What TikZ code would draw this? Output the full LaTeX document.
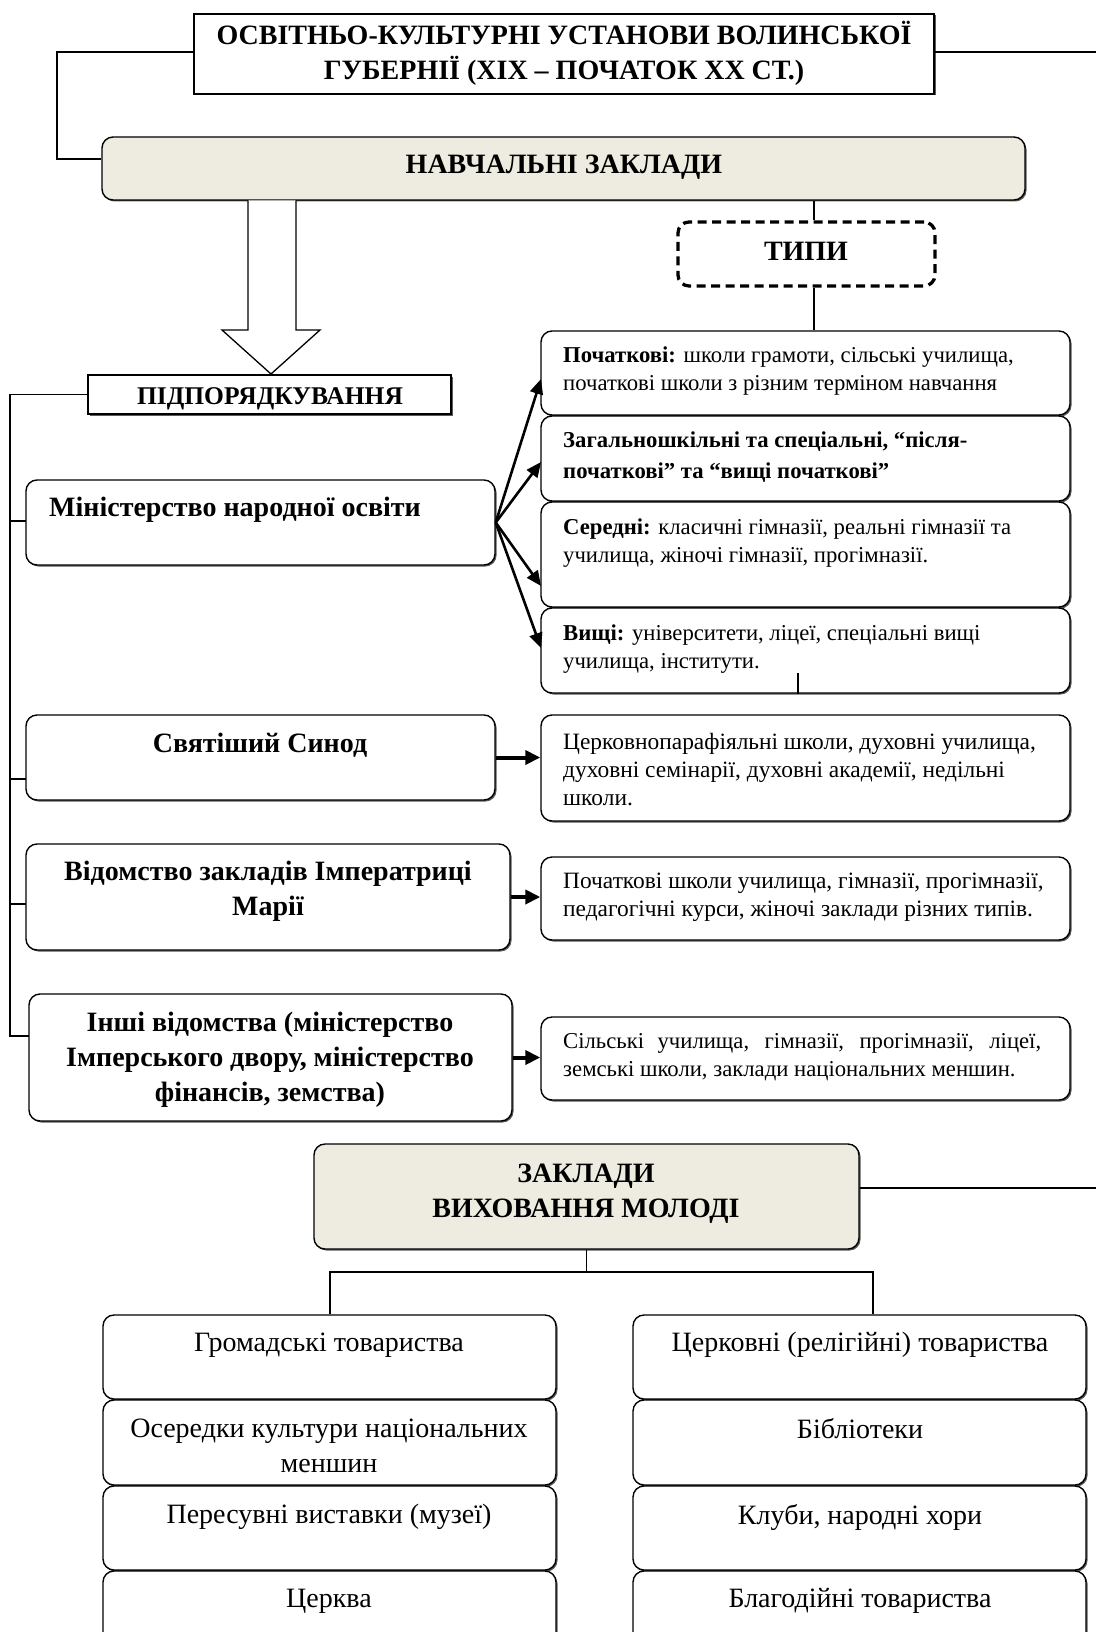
\documentclass[tikz,border=0pt]{standalone}
\usepackage{fontspec}
\setmainfont{Liberation Serif}
\usetikzlibrary{arrows.meta,shadows,calc}
\definecolor{beige}{HTML}{EEECE1}
\newcommand\hdfont{\fontsize{28}{35.5}\selectfont\bfseries}
\newcommand\pdfontx{\fontsize{25.5}{34}\selectfont\bfseries}
\newcommand\lbfont{\fontsize{28}{35}\selectfont\bfseries}
\newcommand\smfont{\fontsize{22.7}{28}\selectfont}
\newcommand\rsfont{\fontsize{23.4}{28}\selectfont}
\newcommand\btfont{\fontsize{28}{34.5}\selectfont}
\tikzset{
  shad/.style={drop shadow={shadow xshift=1.5pt, shadow yshift=-1.5pt, fill=black!65, opacity=1}},
  sq/.style={draw, line width=1.4pt, fill=white, shad, inner sep=0pt},
  bx/.style={draw, line width=1.4pt, rounded corners=11pt, fill=white, shad, inner sep=0pt},
  bg/.style={bx, fill=beige},
  dbox/.style={draw, line width=3.3pt, dash pattern=on 9pt off 5.5pt, rounded corners=11pt, fill=white, inner sep=0pt},
  txt/.style={inner sep=0pt, align=center},
  ltxt/.style={inner sep=0pt, align=left, anchor=west},
  conn/.style={line width=1.4pt},
  arr/.style={line width=2.6pt, -{Triangle[length=15pt,width=13pt]}},
  arrb/.style={line width=4pt, -{Triangle[length=15pt,width=14pt]}},
}
\begin{document}
\begin{tikzpicture}[x=1pt,y=-1pt]
\useasboundingbox (0,0) rectangle (1096,1632);
\fill[white] (0,0) rectangle (1096,1632);

% ---------- top part ----------
\node[sq, minimum width=740pt, minimum height=80pt] (title) at (564,54) {};
\node[txt, font=\hdfont] (ttitle) at (564,53.5) {ОСВІТНЬО-КУЛЬТУРНІ УСТАНОВИ ВОЛИНСЬКОЇ\\ГУБЕРНІЇ (XIX – ПОЧАТОК XX СТ.)};

\node[bg, minimum width=923pt, minimum height=63pt] (nav) at (563.5,168.5) {};
\node[txt, font=\hdfont] (tnav) at (564,167) {НАВЧАЛЬНІ ЗАКЛАДИ};

\node[dbox, minimum width=257pt, minimum height=64pt] (tipy) at (806.5,254) {};
\node[txt, font=\hdfont] (ttipy) at (806,251) {ТИПИ};

\node[sq, minimum width=363pt, minimum height=39pt] (pid) at (269.5,394.5) {};
\node[txt, font=\pdfontx] (tpid) at (270,399) {ПІДПОРЯДКУВАННЯ};

% left boxes
\node[bx, minimum width=469pt, minimum height=85pt] (min) at (260.5,522.5) {};
\node[ltxt, font=\lbfont] (tmin) at (49,510) {Міністерство народної освіти};

\node[bx, minimum width=469pt, minimum height=85pt] (syn) at (260.5,757.5) {};
\node[txt, font=\lbfont] (tsyn) at (260,745) {Святіший Синод};

\node[bx, minimum width=484pt, minimum height=106pt] (mar) at (268,897) {};
\node[txt, font=\lbfont] (tmar) at (268,891) {Відомство закладів Імператриці\\Марії};

\node[bx, minimum width=483pt, minimum height=127pt] (oth) at (270.5,1057.5) {};
\node[txt, font=\lbfont] (toth) at (270,1060) {Інші відомства (міністерство\\Імперського двору, міністерство\\фінансів, земства)};

% type boxes
\node[bx, minimum width=529pt, minimum height=84pt] (t1) at (805.5,373) {};
\node[ltxt, font=\smfont] (tt1) at (563,371) {\textbf{Початкові:} школи грамоти, сільські училища,\\початкові школи з різним терміном навчання};

\node[bx, minimum width=529pt, minimum height=85pt] (t2) at (805.5,458.5) {};
\node[ltxt, font=\fontsize{22.7}{31}\selectfont\bfseries] (tt2) at (563,457) {Загальношкільні та спеціальні, “після-\\початкові” та “вищі початкові”};

\node[bx, minimum width=529pt, minimum height=105pt] (t3) at (805.5,554.5) {};
\node[ltxt, font=\smfont] (tt3) at (563,543) {\textbf{Середні:} класичні гімназії, реальні гімназії та\\училища, жіночі гімназії, прогімназії.};

\node[bx, minimum width=529pt, minimum height=85pt] (t4) at (805.5,650.5) {};
\node[ltxt, font=\smfont] (tt4) at (563,649) {\textbf{Вищі:} університети, ліцеї, спеціальні вищі\\училища, інститути.};

% right boxes
\node[bx, minimum width=529pt, minimum height=106pt] (r1) at (805.5,768) {};
\node[ltxt, font=\rsfont] (tr1) at (563,770) {Церковнопарафіяльні школи, духовні училища,\\духовні семінарії, духовні академії, недільні\\школи.};

\node[bx, minimum width=529pt, minimum height=83pt] (r2) at (805.5,898.5) {};
\node[ltxt, font=\rsfont] (tr2) at (563,897.5) {Початкові школи училища, гімназії, прогімназії,\\педагогічні курси, жіночі заклади різних типів.};

\node[bx, minimum width=529pt, minimum height=83pt] (r3) at (805.5,1058.5) {};
\node[ltxt, font=\smfont] (tr3) at (563,1057) {\makebox[478pt][s]{Сільські училища, гімназії, прогімназії, ліцеї,}\\земські школи, заклади національних меншин.};

% ---------- connectors top ----------
\coordinate (tl) at (57,52);
\coordinate (nl) at (0,159);
\coordinate (tr) at (1096,52);
\draw[conn] (title.west |- tl) -- (tl) |- (nav.west |- nl);
\draw[conn] (title.east |- tl) -- (tr);

\coordinate (tx) at (814,0);
\draw[conn] (nav.south -| tx) -- (tipy.north -| tx);
\draw[conn] (tipy.south -| tx) -- (t1.north -| tx);

% hollow arrow
\draw[line width=1.3pt, fill=white] (248,200.5) -- (248,330) -- (222,330) -- (271,374) -- (320,330) -- (296,330) -- (296,200.5);

% left tree
\coordinate (L) at (10,0);
\coordinate (cb1) at (26,521);
\coordinate (cb2) at (26,779);
\coordinate (cb3) at (26,904);
\coordinate (cb4) at (29,1036);
\draw[conn] (pid.west) -| (L |- cb4) -- (cb4);
\draw[conn] (L |- cb1) -- (cb1);
\draw[conn] (L |- cb2) -- (cb2);
\draw[conn] (L |- cb3) -- (cb3);

% arrows from ministry
\coordinate (a1) at (541,379);
\coordinate (a2) at (541,462);
\coordinate (a3) at (541,586);
\coordinate (a4) at (541,648);
\draw[arr] (min.east) -- (a1);
\draw[arr] (min.east) -- (a2);
\draw[arr] (min.east) -- (a3);
\draw[arr] (min.east) -- (a4);

\coordinate (tk) at (798,673);
\draw[conn] (tk) -- (tk |- t4.south);

\draw[arrb] (syn.east) -- (syn.east -| r1.west);
\draw[arrb] (mar.east) -- (mar.east -| r2.west);
\draw[arrb] (oth.east) -- (oth.east -| r3.west);

% ---------- bottom part ----------
\node[bg, minimum width=545pt, minimum height=105pt] (vyh) at (586.5,1196.5) {};
\node[txt, font=\hdfont] (tvyh) at (586,1193.5) {ЗАКЛАДИ\\ВИХОВАННЯ МОЛОДІ};
\coordinate (vr) at (1096,1188);
\draw[conn] (vyh.east |- vr) -- (vr);

\node[bx, minimum width=453pt, minimum height=84pt] (b1) at (329.5,1357) {};
\node[bx, minimum width=453pt, minimum height=85pt] (b2) at (329.5,1442.5) {};
\node[bx, minimum width=453pt, minimum height=84pt] (b3) at (329.5,1528) {};
\node[bx, minimum width=453pt, minimum height=89pt] (b4) at (329.5,1615.5) {};
\node[bx, minimum width=453pt, minimum height=84pt] (b5) at (859.5,1357) {};
\node[bx, minimum width=453pt, minimum height=85pt] (b6) at (859.5,1442.5) {};
\node[bx, minimum width=453pt, minimum height=84pt] (b7) at (859.5,1528) {};
\node[bx, minimum width=453pt, minimum height=89pt] (b8) at (859.5,1615.5) {};

\node[txt, font=\btfont] (tb1) at (329,1345) {Громадські товариства};
\node[txt, font=\btfont] (tb2) at (329,1446) {Осередки культури національних\\меншин};
\node[txt, font=\btfont] (tb3) at (329,1517) {Пересувні виставки (музеї)};
\node[txt, font=\btfont] (tb4) at (329,1601) {Церква};
\node[txt, font=\btfont] (tb5) at (860,1345) {Церковні (релігійні) товариства};
\node[txt, font=\btfont] (tb6) at (860,1429) {Бібліотеки};
\node[txt, font=\btfont] (tb7) at (860,1517) {Клуби, народні хори};
\node[txt, font=\btfont] (tb8) at (860,1601) {Благодійні товариства};

\coordinate (jl) at (330,1272);
\coordinate (jr) at (873,1272);
\draw[conn] (vyh.south) -- (vyh.south |- jl);
\draw[conn] (jl |- b1.north) -- (jl) -- (jr) -- (jr |- b5.north);
\end{tikzpicture}
\end{document}
